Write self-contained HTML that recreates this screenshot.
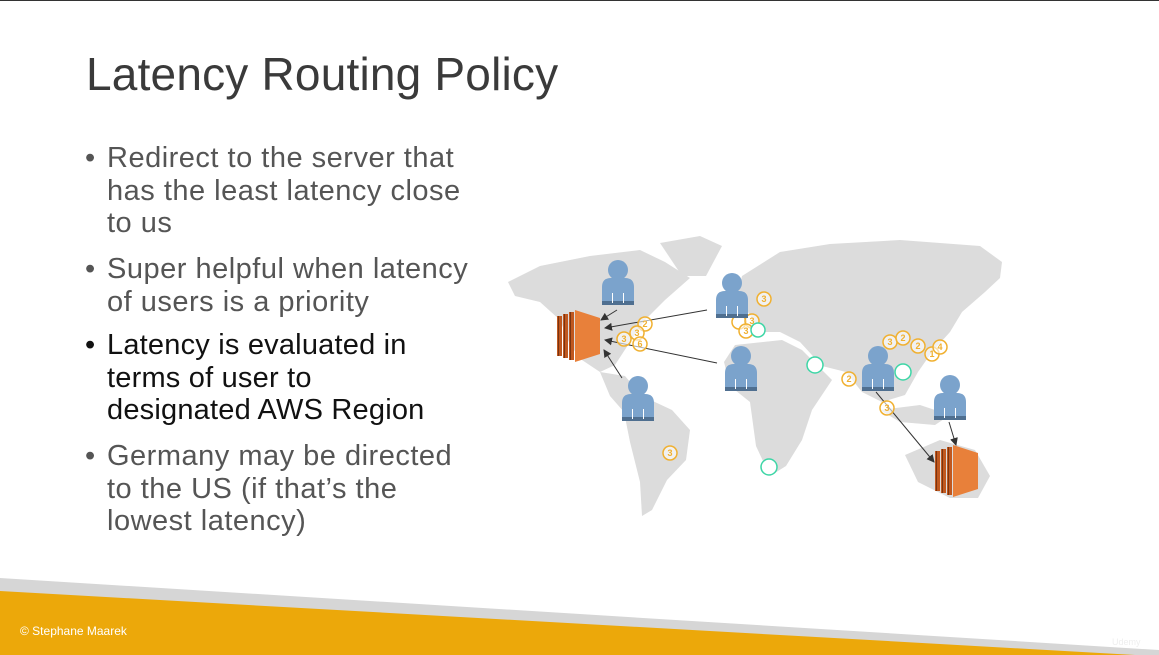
<!DOCTYPE html>
<html><head><meta charset="utf-8"><style>
html,body{margin:0;padding:0}
body{width:1159px;height:655px;position:relative;overflow:hidden;background:#fff;font-family:"Liberation Sans",sans-serif}
.t{position:absolute;left:86px;top:47px;font-size:46px;color:#3a3a3a;letter-spacing:0.2px;white-space:nowrap}
.b{position:absolute;left:107px;font-size:29px;line-height:32.5px;color:#555;letter-spacing:0.5px;white-space:nowrap}
.b:before{content:"•";position:absolute;left:-22px}
.dk{color:#111;letter-spacing:0.2px}
.foot{position:absolute;left:20px;top:624px;color:#fff;font-size:12px}
</style></head><body>
<div style="position:absolute;left:0;top:0;width:1159px;height:1px;background:#333"></div>
<div class="t">Latency Routing Policy</div>
<div class="b" style="top:142px">Redirect to the server that<br>has the least latency close<br>to us</div>
<div class="b" style="top:253px">Super helpful when latency<br>of users is a priority</div>
<div class="b dk" style="top:329px">Latency is evaluated in<br>terms of user to<br>designated AWS Region</div>
<div class="b" style="top:440px">Germany may be directed<br>to the US (if that’s the<br>lowest latency)</div>
<svg width="1159" height="655" style="position:absolute;left:0;top:0">
<defs>
<marker id="a" markerWidth="8" markerHeight="8" refX="7" refY="4" orient="auto"><path d="M0,0L8,4L0,8z" fill="#333"/></marker>
<g id="p"><circle cx="0" cy="-13" r="10" fill="#7ba3cc"/><path d="M-16,22V4q0-9,9-9h14q9,0,9,9v18z" fill="#7ba3cc"/><rect x="-16" y="18" width="32" height="4" fill="#4f6f90"/><rect x="-6" y="10" width="1" height="10" fill="#fff"/><rect x="5" y="10" width="1" height="10" fill="#fff"/></g>
<g id="e"><rect x="0" y="6" width="5" height="40" fill="#c0581f"/><rect x="6" y="4" width="5" height="44" fill="#c0581f"/><rect x="12" y="2" width="5" height="48" fill="#c0581f"/><path d="M18,0L43,8V44L18,52z" fill="#e8803a"/><rect x="1" y="6" width="1" height="40" fill="#7a3410"/><rect x="7" y="4" width="1" height="44" fill="#7a3410"/><rect x="13" y="2" width="1" height="48" fill="#7a3410"/></g>
</defs>
<g fill="#dcdcdc">
<path d="M508,282L540,266L590,256L640,250L665,262L690,278L665,300L645,320L628,345L615,365L600,372L582,360L570,345L560,320L540,302L515,296z"/>
<path d="M660,243L700,236L722,246L706,276L682,276z"/>
<path d="M600,372L625,376L642,396L672,410L690,430L686,460L667,480L652,510L642,516L640,482L630,442L624,412L610,396z"/>
<path d="M742,276L780,252L830,244L900,240L980,246L1002,262L1000,278L985,292L962,312L950,332L932,352L918,372L905,395L882,402L862,392L846,372L822,366L800,342L780,332L760,332L748,312L738,292z"/>
<path d="M735,345L782,340L802,350L820,368L832,380L812,410L802,440L786,466L770,476L756,446L750,402L730,386L724,362z"/>
<path d="M905,455L940,440L975,450L990,476L978,498L950,498L918,482z"/>
<path d="M880,410L920,405L950,415L935,425L900,422z"/>
</g>
<g stroke="#333" stroke-width="1" marker-end="url(#a)">
<line x1="707" y1="310" x2="605" y2="328"/><line x1="717" y1="363" x2="605" y2="340"/>
<line x1="617" y1="310" x2="601" y2="320"/><line x1="622" y1="378" x2="604" y2="350"/>
<line x1="876" y1="392" x2="934" y2="462"/><line x1="949" y1="422" x2="956" y2="445"/>
</g>
<g fill="#fff" fill-opacity=".6" stroke="#f0b030" stroke-width="1.5">
<circle cx="645" cy="324" r="7"/><circle cx="637" cy="333" r="7"/><circle cx="624" cy="339" r="7"/><circle cx="640" cy="344" r="7"/><circle cx="764" cy="299" r="7"/><circle cx="739" cy="322" r="7"/><circle cx="752" cy="321" r="7"/><circle cx="746" cy="331" r="7"/><circle cx="890" cy="342" r="7"/><circle cx="903" cy="338" r="7"/><circle cx="918" cy="346" r="7"/><circle cx="932" cy="354" r="7"/><circle cx="940" cy="347" r="7"/><circle cx="849" cy="379" r="7"/><circle cx="887" cy="408" r="7"/><circle cx="670" cy="453" r="7"/>
</g>
<g fill="#f0b030" font-size="9" font-weight="bold" text-anchor="middle">
<text x="645" y="327">2</text><text x="637" y="336">3</text><text x="624" y="342">3</text><text x="640" y="347">6</text><text x="764" y="302">3</text><text x="752" y="324">3</text><text x="746" y="334">3</text><text x="890" y="345">3</text><text x="903" y="341">2</text><text x="918" y="349">2</text><text x="932" y="357">1</text><text x="940" y="350">4</text><text x="849" y="382">2</text><text x="887" y="411">3</text><text x="670" y="456">3</text>
</g>
<g fill="#fff" stroke="#3dd6a6" stroke-width="1.5"><circle cx="758" cy="330" r="7"/><circle cx="815" cy="365" r="8"/><circle cx="903" cy="372" r="8"/><circle cx="769" cy="467" r="8"/></g>
<use href="#p" x="618" y="283"/><use href="#p" x="732" y="296"/><use href="#p" x="741" y="369"/><use href="#p" x="638" y="399"/><use href="#p" x="878" y="369"/><use href="#p" x="950" y="398"/>
<use href="#e" x="557" y="310"/><use href="#e" x="935" y="445"/>
<polygon points="0,578 1159,650 1159,655 0,655" fill="#d6d6d6"/>
<polygon points="0,591 1135,655 0,655" fill="#eca80a"/>
</svg>
<div class="foot">© Stephane Maarek</div>
<div style="position:absolute;left:1112px;top:637px;font-size:9px;color:#eee">Udemy</div>
</body></html>
